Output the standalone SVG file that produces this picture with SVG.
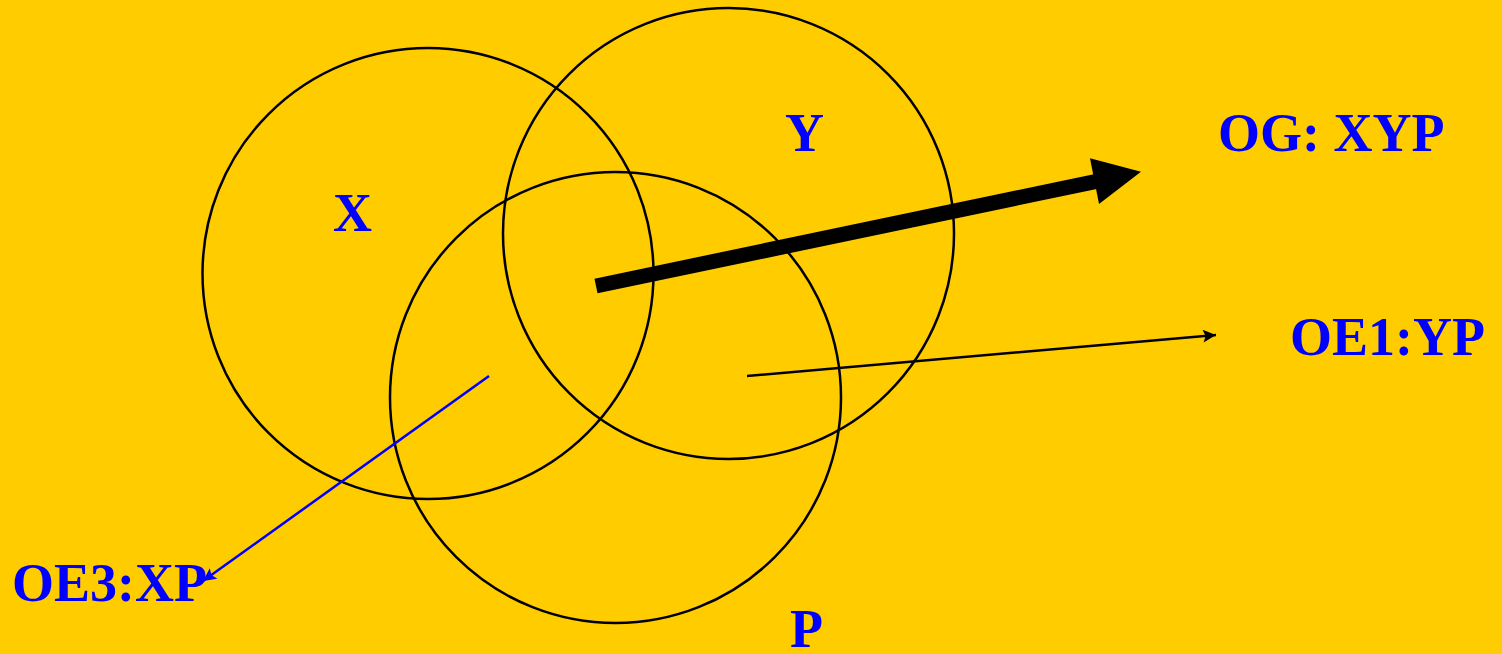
<svg xmlns="http://www.w3.org/2000/svg" width="1502" height="654" viewBox="0 0 1502 654">
<defs>
<style>
.c{fill:none;stroke:#000;stroke-width:2.5}
.t{font-family:"Liberation Serif","Times New Roman",serif;font-weight:bold;fill:#0000ff;font-size:54px}
</style>
<marker id="ab" viewBox="0 0 10 10" refX="10" refY="5" markerWidth="18" markerHeight="13" markerUnits="userSpaceOnUse" orient="auto"><path d="M0,0L10,5L0,10L2,5Z" fill="#000"/></marker>
<marker id="au" viewBox="0 0 10 10" refX="10" refY="5" markerWidth="18" markerHeight="13" markerUnits="userSpaceOnUse" orient="auto"><path d="M0,0L10,5L0,10L2,5Z" fill="#0000ff"/></marker>
</defs>
<rect width="1502" height="654" fill="#ffcc00"/>
<g id="node-X"><circle class="c" cx="428" cy="273.5" r="225.5"/><text class="t" x="333" y="231" font-size="50">X</text></g>
<g id="node-Y"><circle class="c" cx="728.5" cy="233.5" r="225.5"/><text class="t" x="785" y="151">Y</text></g>
<g id="node-P"><circle class="c" cx="615.5" cy="397.5" r="225.5"/><text class="t" x="790" y="647">P</text></g>
<g id="label-OG"><text class="t" x="1218" y="151">OG: XYP</text></g>
<g id="label-OE1"><text class="t" x="1290" y="355">OE1:YP</text></g>
<g id="label-OE3"><text class="t" x="12" y="601">OE3:XP</text></g>
<g id="connectors">
<line x1="596" y1="286" x2="1100" y2="180.6" stroke="#000" stroke-width="15"/>
<polygon points="1141,171.7 1090,158.3 1099,204" fill="#000"/>
<line x1="747" y1="376" x2="1216" y2="335" stroke="#000" stroke-width="2.5" marker-end="url(#ab)"/>
<line x1="489" y1="376" x2="203" y2="581" stroke="#0000ff" stroke-width="2.5" marker-end="url(#au)"/>
</g>
</svg>
